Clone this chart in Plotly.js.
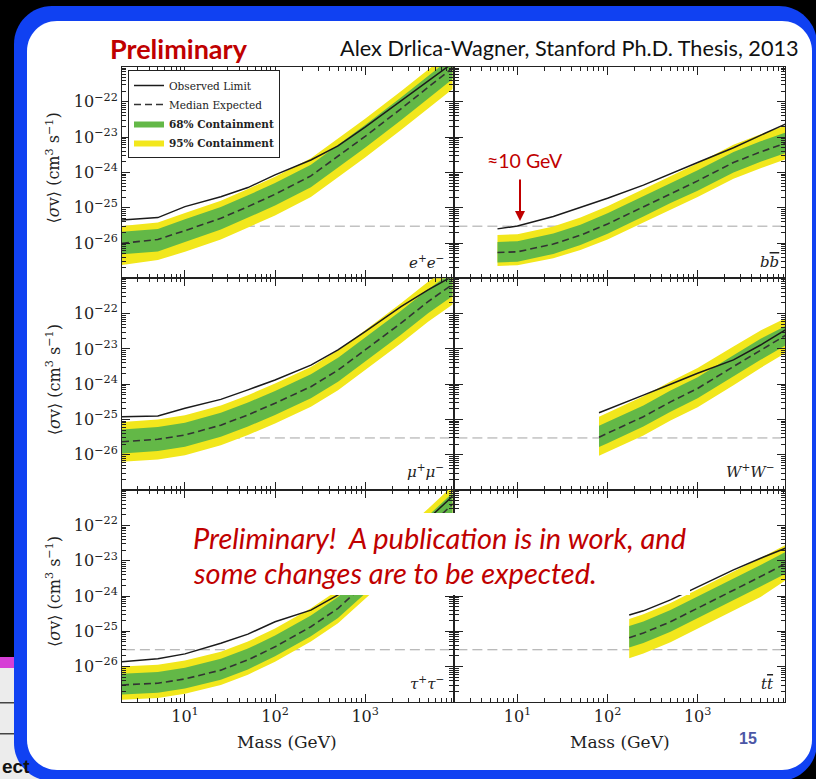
<!DOCTYPE html>
<html><head><meta charset="utf-8">
<script src="https://cdn.plot.ly/plotly-3.0.1.min.js"></script>
<style>html,body{margin:0;padding:0;background:#000;} #chart{width:816px;height:779px;}</style>
</head><body><div id="chart"></div>
<script>
// ---------- data (cross-section values stored as log10 exponents, in cm^3 s^-1) ----------
const massLepton = [2, 5, 10, 25, 50, 100, 250, 500, 1000, 2500, 5000, 10000];
const massBB = [6, 10, 25, 50, 100, 250, 500, 1000, 2500, 5000, 10000];
const massWW = [80.4, 100, 250, 500, 1000, 2500, 5000, 10000];
const massTT = [174, 250, 500, 1000, 2500, 5000, 10000];

const eeObs  = [-25.35, -25.28, -24.97, -24.69, -24.43, -24.07, -23.65, -23.25, -22.72, -21.97, -21.42, -20.85];
const eeMed  = [-26.01, -25.90, -25.65, -25.30, -24.97, -24.62, -24.10, -23.55, -22.98, -22.20, -21.60, -20.98];
const eeHi68 = [-25.68, -25.60, -25.33, -24.98, -24.65, -24.30, -23.78, -23.23, -22.66, -21.88, -21.28, -20.66];
const eeLo68 = [-26.32, -26.24, -25.97, -25.62, -25.29, -24.94, -24.42, -23.87, -23.30, -22.52, -21.92, -21.30];
const eeHi95 = [-25.52, -25.42, -25.15, -24.80, -24.47, -24.12, -23.60, -23.05, -22.48, -21.70, -21.10, -20.48];
const eeLo95 = [-26.62, -26.48, -26.25, -25.90, -25.57, -25.22, -24.70, -24.15, -23.58, -22.80, -22.20, -21.58];

const bbObs  = [-25.60, -25.52, -25.25, -24.99, -24.73, -24.36, -24.03, -23.72, -23.30, -22.95, -22.60];
const bbMed  = [-26.27, -26.25, -26.03, -25.78, -25.46, -24.97, -24.59, -24.24, -23.72, -23.42, -23.15];
const bbHi68 = [-25.97, -25.95, -25.73, -25.48, -25.16, -24.67, -24.29, -23.94, -23.42, -23.12, -22.85];
const bbLo68 = [-26.55, -26.53, -26.31, -26.06, -25.74, -25.25, -24.87, -24.52, -24.00, -23.70, -23.43];
const bbHi95 = [-25.77, -25.75, -25.53, -25.28, -24.96, -24.47, -24.09, -23.74, -23.22, -22.92, -22.65];
const bbLo95 = [-26.65, -26.63, -26.43, -26.20, -25.90, -25.42, -25.05, -24.70, -24.18, -23.88, -23.61];

const mumuObs  = [-24.92, -24.90, -24.68, -24.43, -24.16, -23.88, -23.46, -23.03, -22.51, -21.80, -21.33, -20.90];
const mumuMed  = [-25.63, -25.56, -25.44, -25.16, -24.87, -24.54, -24.07, -23.60, -23.03, -22.27, -21.66, -21.12];
const mumuHi68 = [-25.28, -25.21, -25.09, -24.81, -24.52, -24.19, -23.72, -23.25, -22.68, -21.92, -21.31, -20.77];
const mumuLo68 = [-25.96, -25.89, -25.77, -25.49, -25.20, -24.87, -24.40, -23.93, -23.36, -22.60, -21.99, -21.45];
const mumuHi95 = [-25.07, -25.00, -24.88, -24.60, -24.31, -23.98, -23.51, -23.04, -22.47, -21.71, -21.10, -20.56];
const mumuLo95 = [-26.20, -26.13, -26.01, -25.73, -25.44, -25.11, -24.64, -24.17, -23.60, -22.84, -22.23, -21.69];

const wwObs  = [-24.81, -24.71, -24.31, -24.00, -23.69, -23.31, -22.89, -22.42];
const wwMed  = [-25.50, -25.39, -24.92, -24.50, -24.12, -23.50, -23.03, -22.58];
const wwHi68 = [-25.18, -25.07, -24.60, -24.18, -23.80, -23.18, -22.71, -22.32];
const wwLo68 = [-25.78, -25.67, -25.20, -24.78, -24.40, -23.78, -23.31, -22.87];
const wwHi95 = [-24.92, -24.81, -24.34, -23.92, -23.54, -22.93, -22.48, -22.10];
const wwLo95 = [-26.03, -25.92, -25.45, -25.03, -24.65, -24.03, -23.54, -23.08];

const tautauObs  = [-25.86, -25.78, -25.64, -25.34, -25.08, -24.73, -24.40, -23.97, -23.40, -22.52, -21.82, -21.10];
const tautauMed  = [-26.52, -26.47, -26.35, -26.10, -25.81, -25.44, -24.87, -24.35, -23.65, -22.75, -22.05, -21.33];
const tautauHi68 = [-26.20, -26.15, -26.03, -25.78, -25.49, -25.12, -24.55, -24.03, -23.33, -22.43, -21.73, -21.01];
const tautauLo68 = [-26.79, -26.74, -26.62, -26.37, -26.08, -25.71, -25.14, -24.62, -23.92, -23.02, -22.32, -21.60];
const tautauHi95 = [-26.00, -25.95, -25.83, -25.58, -25.29, -24.92, -24.35, -23.83, -23.13, -22.23, -21.53, -20.81];
const tautauLo95 = [-26.94, -26.89, -26.77, -26.52, -26.23, -25.86, -25.29, -24.77, -24.07, -23.17, -22.47, -21.75];

const ttObs  = [-24.54, -24.42, -24.11, -23.74, -23.26, -22.93, -22.62];
const ttMed  = [-25.18, -25.05, -24.73, -24.35, -23.83, -23.45, -23.05];
const ttHi68 = [-24.85, -24.72, -24.40, -24.02, -23.50, -23.12, -22.72];
const ttLo68 = [-25.46, -25.33, -25.01, -24.63, -24.11, -23.73, -23.34];
const ttHi95 = [-24.65, -24.52, -24.20, -23.82, -23.30, -22.92, -22.52];
const ttLo95 = [-25.76, -25.63, -25.31, -24.93, -24.41, -24.03, -23.52];

const thermalRelicXS = 3e-26;
const relicSpan = [1, 20000];

const OVER = s => '<span style="text-decoration:overline">' + s + '</span>';
const channelLabels = ['<i>e</i><sup>+</sup><i>e</i><sup>\u2212</sup>', '<i>b' + OVER('b') + '</i>',
  '<i>\u03bc</i><sup>+</sup><i>\u03bc</i><sup>\u2212</sup>', '<i>W</i><sup>+</sup><i>W</i><sup>\u2212</sup>',
  '<i>\u03c4</i><sup>+</sup><i>\u03c4</i><sup>\u2212</sup>', '<i>t' + OVER('t') + '</i>'];
const massTickVals = [10, 100, 1000];
const massTickText = ['10<sup>1</sup>', '10<sup>2</sup>', '10<sup>3</sup>'];
const xsTickVals = [1e-26, 1e-25, 1e-24, 1e-23, 1e-22];
const xsTickText = ['10<sup>\u221226</sup>', '10<sup>\u221225</sup>', '10<sup>\u221224</sup>', '10<sup>\u221223</sup>', '10<sup>\u221222</sup>'];
const legendNames = ['Observed Limit', 'Median Expected', '<b>68% Containment</b>', '<b>95% Containment</b>'];

// ---------- styling ----------
const W = 816, H = 779;
const INK = '#222';
const SERIF = 'DejaVu Serif, Liberation Serif, serif';
const SANS = 'Lato, Open Sans, sans-serif';
const YELLOW = '#f2e71c', GREEN = '#63b847', RED = '#c00000';
const colPx = [[122, 452.5], [454.5, 785]];
const rowPx = [[66.5, 278.3], [278.3, 490.1], [490.1, 701.9]];
const px2x = p => p / W, py2y = p => 1 - p / H;
const toXS = a => a.map(e => Math.pow(10, e));
const sfx = k => (k === 1 ? '' : String(k));

const traces = [];
function panel(k, m, lo95, lo68, med, hi68, hi95, obs, legend) {
  const xa = 'x' + sfx(k), ya = 'y' + sfx(k);
  const ring = m.concat(m.slice().reverse());
  traces.push({type: 'scatter', mode: 'lines', x: relicSpan, y: [thermalRelicXS, thermalRelicXS], xaxis: xa, yaxis: ya,
    line: {color: '#a3a3a3', width: 1, dash: '10px,5px'}, showlegend: false, hoverinfo: 'skip'});
  traces.push({type: 'scatter', mode: 'lines', x: ring, y: toXS(hi95).concat(toXS(lo95).reverse()), xaxis: xa, yaxis: ya,
    fill: 'toself', fillcolor: YELLOW, line: {width: 0, color: YELLOW}, name: legendNames[3], legendrank: 4, showlegend: legend, hoverinfo: 'skip'});
  traces.push({type: 'scatter', mode: 'lines', x: ring, y: toXS(hi68).concat(toXS(lo68).reverse()), xaxis: xa, yaxis: ya,
    fill: 'toself', fillcolor: GREEN, line: {width: 0, color: GREEN}, name: legendNames[2], legendrank: 3, showlegend: legend, hoverinfo: 'skip'});
  traces.push({type: 'scatter', mode: 'lines', x: m, y: toXS(med), xaxis: xa, yaxis: ya,
    line: {color: '#333', width: 1.6, dash: '7px,4px'}, name: legendNames[1], legendrank: 2, showlegend: legend, hoverinfo: 'skip'});
  traces.push({type: 'scatter', mode: 'lines', x: m, y: toXS(obs), xaxis: xa, yaxis: ya,
    line: {color: '#1b1b1b', width: 1.5}, name: legendNames[0], legendrank: 1, showlegend: legend, hoverinfo: 'skip'});
}
panel(1, massLepton, eeLo95, eeLo68, eeMed, eeHi68, eeHi95, eeObs, true);
panel(2, massBB, bbLo95, bbLo68, bbMed, bbHi68, bbHi95, bbObs, false);
panel(3, massLepton, mumuLo95, mumuLo68, mumuMed, mumuHi68, mumuHi95, mumuObs, false);
panel(4, massWW, wwLo95, wwLo68, wwMed, wwHi68, wwHi95, wwObs, false);
panel(5, massLepton, tautauLo95, tautauLo68, tautauMed, tautauHi68, tautauHi95, tautauObs, false);
panel(6, massTT, ttLo95, ttLo68, ttMed, ttHi68, ttHi95, ttObs, false);

const layout = {
  width: W, height: H, margin: {l: 0, r: 0, t: 0, b: 0},
  paper_bgcolor: '#000', plot_bgcolor: 'rgba(0,0,0,0)', hovermode: false, showlegend: true,
  legend: {x: px2x(128), y: py2y(70), xanchor: 'left', yanchor: 'top', bgcolor: '#fff', bordercolor: INK, borderwidth: 1,
    font: {family: SERIF, size: 10.5, color: INK}, traceorder: 'normal', tracegroupgap: 0, itemwidth: 30},
  shapes: [], annotations: []
};
for (let k = 1; k <= 6; k++) {
  const col = (k - 1) % 2, row = Math.floor((k - 1) / 2);
  layout['xaxis' + sfx(k)] = {
    domain: [px2x(colPx[col][0]), px2x(colPx[col][1])], anchor: 'y' + sfx(k), type: 'log', range: [Math.log10(2), 3.97],
    showgrid: false, zeroline: false, showline: true, linecolor: INK, linewidth: 1, mirror: 'allticks',
    ticks: 'inside', ticklen: 8, tickwidth: 1, tickcolor: INK, tickmode: 'array', tickvals: massTickVals, ticktext: massTickText,
    showticklabels: row === 2, tickfont: {family: SERIF, size: 16, color: INK},
    minor: {ticks: 'inside', ticklen: 4, tickwidth: 1, tickcolor: INK, dtick: 'D1', showgrid: false},
    automargin: false, fixedrange: true
  };
  layout['yaxis' + sfx(k)] = {
    domain: [py2y(rowPx[row][1]), py2y(rowPx[row][0])], anchor: 'x' + sfx(k), type: 'log', range: [-27, -21],
    showgrid: false, zeroline: false, showline: true, linecolor: INK, linewidth: 1, mirror: 'allticks',
    ticks: 'inside', ticklen: 8, tickwidth: 1, tickcolor: INK, tickmode: 'array', tickvals: xsTickVals, ticktext: xsTickText,
    showticklabels: col === 0, tickfont: {family: SERIF, size: 16, color: INK},
    minor: {ticks: 'inside', ticklen: 4, tickwidth: 1, tickcolor: INK, dtick: 'D1', showgrid: false},
    automargin: false, fixedrange: true
  };
  const labPos = [[446, 262], [781, 262], [446, 471], [776, 471], [446, 683], [776, 684]][k - 1];
  layout.annotations.push({xref: 'paper', yref: 'paper', x: px2x(labPos[0]), y: py2y(labPos[1]), xanchor: 'right', yanchor: 'middle',
    text: channelLabels[k - 1], showarrow: false, font: {family: SERIF, size: 15, color: INK}});
  if (col === 0) {
    layout.annotations.push({xref: 'paper', yref: 'paper', x: px2x(53), y: py2y((rowPx[row][0] + rowPx[row][1]) / 2 - 4),
      xanchor: 'center', yanchor: 'middle', textangle: -90, showarrow: false,
      text: '\u27e8<i>\u03c3</i>v\u27e9 (cm<sup>3</sup> s<sup>\u22121</sup>)', font: {family: SERIF, size: 16, color: INK}});
  }
  if (row === 2) {
    layout.annotations.push({xref: 'paper', yref: 'paper', x: px2x((colPx[col][0] + colPx[col][1]) / 2), y: py2y(742),
      xanchor: 'center', yanchor: 'middle', text: 'Mass (GeV)', showarrow: false, font: {family: SERIF, size: 17, color: INK}});
  }
}

// slide frame
function rr(x0, y0, x1, y1, r) {
  const k = 0.5523 * r;
  const P = (x, y) => px2x(x).toFixed(5) + ',' + py2y(y).toFixed(5);
  return 'M' + P(x0 + r, y0) + ' L' + P(x1 - r, y0) + ' C' + P(x1 - r + k, y0) + ' ' + P(x1, y0 + r - k) + ' ' + P(x1, y0 + r) +
    ' L' + P(x1, y1 - r) + ' C' + P(x1, y1 - r + k) + ' ' + P(x1 - r + k, y1) + ' ' + P(x1 - r, y1) +
    ' L' + P(x0 + r, y1) + ' C' + P(x0 + r - k, y1) + ' ' + P(x0, y1 - r + k) + ' ' + P(x0, y1 - r) +
    ' L' + P(x0, y0 + r) + ' C' + P(x0, y0 + r - k) + ' ' + P(x0 + r - k, y0) + ' ' + P(x0 + r, y0) + ' Z';
}
const rectPx = (x0, y0, x1, y1, fill, layer) => ({type: 'rect', xref: 'paper', yref: 'paper', x0: px2x(x0), x1: px2x(x1),
  y0: py2y(y1), y1: py2y(y0), fillcolor: fill, line: {width: 0}, layer: layer || 'below'});
layout.shapes.push(rectPx(0, 657, 22, 668, '#d63fd6'));
layout.shapes.push(rectPx(0, 668, 45, 779, '#ececec'));
layout.shapes.push(rectPx(0, 702, 16, 703.5, '#444'));
layout.shapes.push(rectPx(0, 733, 16, 734.5, '#444'));
layout.shapes.push({type: 'path', xref: 'paper', yref: 'paper', path: rr(14, 6, 817, 781, 38), fillcolor: '#1041f2', line: {width: 0}, layer: 'below'});
layout.shapes.push({type: 'path', xref: 'paper', yref: 'paper', path: rr(27, 21, 812, 770, 30), fillcolor: '#ffffff', line: {width: 0}, layer: 'below'});
// white note box over the lower panels
layout.shapes.push(rectPx(186, 513, 690, 595, '#ffffff', 'above'));

const ann = (x, y, text, font, extra) => Object.assign({xref: 'paper', yref: 'paper', x: px2x(x), y: py2y(y), text: text,
  showarrow: false, font: font, xanchor: 'left', yanchor: 'middle'}, extra || {});
layout.annotations.push(ann(108, 48, '<b>Preliminary</b>', {family: SANS, size: 27, color: RED}));
layout.annotations.push(ann(338, 48, 'Alex Drlica-Wagner, Stanford Ph.D. Thesis, 2013', {family: SANS, size: 21.7, color: '#111'}));
layout.annotations.push(ann(525, 160, '\u224810 GeV', {family: SANS, size: 19.5, color: RED}, {xanchor: 'center'}));
layout.annotations.push({xref: 'paper', yref: 'paper', x: px2x(520), y: py2y(221), text: '', showarrow: true, ax: 0, ay: -43,
  arrowcolor: RED, arrowwidth: 2, arrowhead: 2, arrowsize: 1});
layout.annotations.push(ann(191, 537, '<i>Preliminary!\u00a0 A publication is in work, and</i>', {family: SANS, size: 29, color: RED}));
layout.annotations.push(ann(191, 572, '<i>some changes are to be expected.</i>', {family: SANS, size: 29, color: RED}));
layout.annotations.push(ann(748, 738, '<b>15</b>', {family: 'Liberation Sans, Arial, sans-serif', size: 16, color: '#4b56a6'}, {xanchor: 'center'}));
layout.annotations.push(ann(0, 766, '<b>ect</b>', {family: 'Liberation Sans, Arial, sans-serif', size: 19, color: '#111'}));

Plotly.newPlot('chart', traces, layout, {displayModeBar: false, staticPlot: true});
</script>
</body></html>
